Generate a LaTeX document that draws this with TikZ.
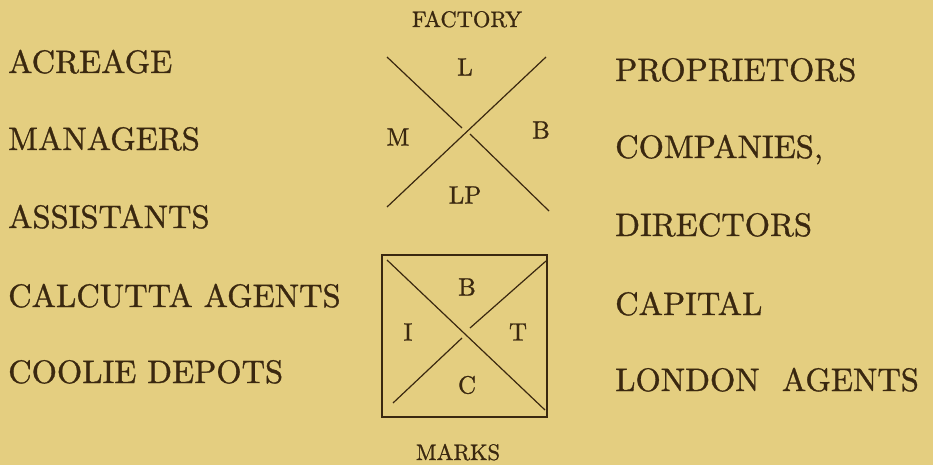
\documentclass[tikz,border=0pt]{standalone}
\usepackage{fontspec}
\newfontfamily\platefont{lmroman10-regular.otf}[FakeBold=1]
\usepackage{xcolor}
\usepackage{tikz}
\usetikzlibrary{positioning}
\definecolor{paper}{RGB}{228,206,128}
\definecolor{ink}{RGB}{58,40,16}

\begin{document}
\begin{tikzpicture}[x=1pt,y=-1pt,
    every node/.style={text=ink, inner sep=0pt},
    item/.style={font=\platefont\fontsize{32.5}{36}\selectfont, anchor=base west},
    letter/.style={font=\platefont\fontsize{25}{28}\selectfont},
    caption/.style={font=\platefont\fontsize{22.5}{25}\selectfont, anchor=base},
    stroke/.style={draw=ink, line width=1.2pt}]
                \useasboundingbox[fill=paper] (0,0) rectangle (933,465);
                \node[item] (acreage) at (8,73) {ACREAGE};
                \node[item] (managers) at (8,150) {MANAGERS};
                \node[item] (assistants) at (8,228) {ASSISTANTS};
                \node[item] (calcutta) at (8,307) {CALCUTTA AGENTS};
                \node[item] (coolie) at (8,383) {COOLIE DEPOTS};
                \node[item] (proprietors) at (615,81) {PROPRIETORS};
                \node[item] (companies) at (615,158) {COMPANIES,};
                \node[item] (directors) at (615,236) {DIRECTORS};
                \node[item] (capital) at (615,315) {CAPITAL};
                \node[item] (london) at (615,391) {LONDON\hspace{0.35em} AGENTS};
                \node[caption] (factory) at (467,27) {FACTORY};
                \coordinate (fnw) at (387,57);
                \coordinate (fne) at (546,57);
                \coordinate (fsw) at (387,207);
                \coordinate (fse) at (549,211);
                \coordinate (fgapa) at (462,128);
                \coordinate (fgapb) at (470,134);
                \draw[stroke] (fnw) -- (fgapa);
                \draw[stroke] (fgapb) -- (fse);
                \draw[stroke] (fne) -- (fsw);
                \node[letter] (fl) at (465,67) {L};
                \node[letter] (fm) at (398,137) {M};
                \node[letter] (fb) at (541,130) {B};
                \node[letter] (flp) at (465,195) {LP};
                \coordinate (box nw) at (382,255);
                \coordinate (box se) at (547,417);
                \draw[stroke] (box nw) rectangle (box se);
                \coordinate (mnw) at (387,260);
                \coordinate (mse) at (545,410);
                \coordinate (mne) at (546,261);
                \coordinate (msw) at (393,403);
                \coordinate (mgapa) at (470,328);
                \coordinate (mgapb) at (462,338);
                \draw[stroke] (mnw) -- (mse);
                \draw[stroke] (mne) -- (mgapa);
                \draw[stroke] (mgapb) -- (msw);
                \node[letter] (mb) at (467,287) {B};
                \node[letter] (mi) at (408,332) {I};
                \node[letter] (mt) at (518,332) {T};
                \node[letter] (mc) at (467,385) {C};
                \node[caption] (marks) at (458,460) {MARKS};
            \end{tikzpicture}
\end{document}
